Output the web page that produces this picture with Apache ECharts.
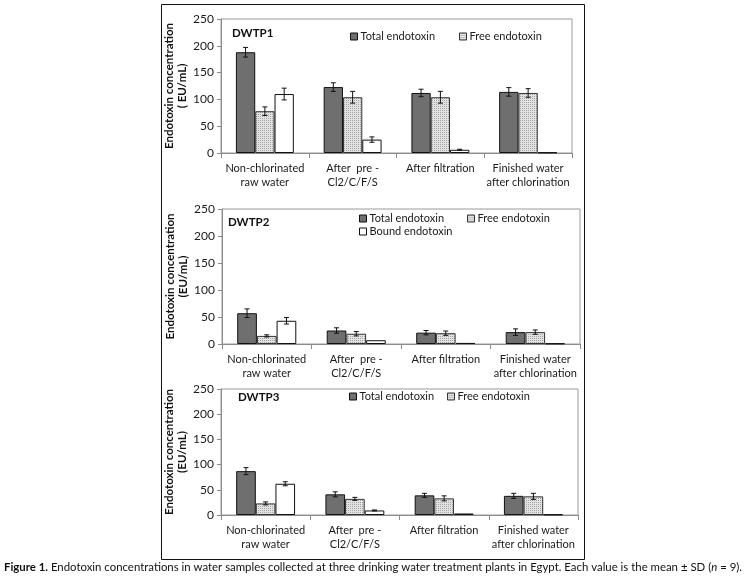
<!DOCTYPE html>
<html>
<head>
<meta charset="utf-8">
<style>
html,body{margin:0;padding:0;background:#fff;}
#c{width:748px;height:582px;}
</style>
<script src="https://cdn.jsdelivr.net/npm/echarts@6/dist/echarts.min.js"></script>
</head>
<body>
<div id="c"></div>
<script>
// ---- data ----
const categories = ['Non-chlorinated\nraw water', 'After  pre -\nCl2/C/F/S', 'After filtration', 'Finished water\nafter chlorination'];
const yTicks = [0, 50, 100, 150, 200, 250];
const plantNames = ['DWTP1', 'DWTP2', 'DWTP3'];
const seriesNames = ['Total endotoxin', 'Free endotoxin', 'Bound endotoxin'];

const dwtp1Total = [188, 123, 112, 114];
const dwtp1TotalSD = [9, 8, 7, 8];
const dwtp1Free = [78, 104, 104, 112];
const dwtp1FreeSD = [8, 11, 11, 8];
const dwtp1Bound = [110, 25, 6, 1];
const dwtp1BoundSD = [11, 5, 1, 0];

const dwtp2Total = [57, 25, 21, 22];
const dwtp2TotalSD = [8, 5, 4, 6];
const dwtp2Free = [15, 19, 20, 22];
const dwtp2FreeSD = [2, 4, 4, 4];
const dwtp2Bound = [43, 7, 2, 1];
const dwtp2BoundSD = [6, 0, 0, 0];

const dwtp3Total = [87, 41, 39, 38];
const dwtp3TotalSD = [7, 5, 4, 5];
const dwtp3Free = [23, 32, 33, 37];
const dwtp3FreeSD = [3, 3, 5, 6];
const dwtp3Bound = [62, 9, 3, 1];
const dwtp3BoundSD = [4, 1, 0, 0];

const yNames = ['Endotoxin concentration\n( EU/mL)', 'Endotoxin concentration\n(EU/mL)', 'Endotoxin concentration\n(EU/mL)'];

// ---- build ----
const FONT = 'Lato, "Open Sans", sans-serif';
const TXT = '#1a1a1a';

function makePattern() {
  const cv = document.createElement('canvas');
  cv.width = 2; cv.height = 2;
  const ctx = cv.getContext('2d');
  ctx.fillStyle = '#e2e2e2';
  ctx.fillRect(0, 0, 2, 2);
  ctx.fillStyle = '#a6a6a6';
  ctx.fillRect(0, 0, 1, 1);
  return { image: cv, repeat: 'repeat' };
}
const freePattern = makePattern();

const styles = [
  { color: '#6f6f6f', borderColor: '#111', borderWidth: 1 },
  { color: freePattern, borderColor: '#333', borderWidth: 1 },
  { color: '#ffffff', borderColor: '#111', borderWidth: 1 }
];

const plants = [
  { vals: [dwtp1Total, dwtp1Free, dwtp1Bound], sds: [dwtp1TotalSD, dwtp1FreeSD, dwtp1BoundSD] },
  { vals: [dwtp2Total, dwtp2Free, dwtp2Bound], sds: [dwtp2TotalSD, dwtp2FreeSD, dwtp2BoundSD] },
  { vals: [dwtp3Total, dwtp3Free, dwtp3Bound], sds: [dwtp3TotalSD, dwtp3FreeSD, dwtp3BoundSD] }
];

const grids = [
  { left: 221, top: 19, width: 351, height: 134 },
  { left: 222, top: 209, width: 358, height: 135 },
  { left: 221, top: 389, width: 357, height: 126 }
];

const CAT_GAP = 0.34;

const xAxes = [], yAxes = [], series = [], titles = [];
grids.forEach((g, gi) => {
  g.show = true; g.borderColor = '#9a9a9a'; g.borderWidth = 1; g.backgroundColor = 'transparent';
  xAxes.push({
    type: 'category', gridIndex: gi, data: categories,
    axisLine: { lineStyle: { color: '#8c8c8c' } },
    axisTick: { show: true, length: 5, lineStyle: { color: '#8c8c8c' } },
    axisLabel: { color: TXT, fontFamily: FONT, fontSize: 11, lineHeight: 14, margin: 8, interval: 0 }
  });
  yAxes.push({
    type: 'value', gridIndex: gi, min: yTicks[0], max: yTicks[yTicks.length - 1], interval: 50,
    axisLine: { show: true, lineStyle: { color: '#8c8c8c' } },
    axisTick: { show: true, length: 4, lineStyle: { color: '#8c8c8c' } },
    splitLine: { show: false },
    axisLabel: { color: TXT, fontFamily: FONT, fontSize: 12, margin: 7 },
    name: yNames[gi], nameLocation: 'middle', nameGap: 20, nameRotate: 90,
    nameTextStyle: { color: '#111', fontFamily: FONT, fontSize: 11.5, fontWeight: 'bold', lineHeight: 13 }
  });
  const p = plants[gi];
  for (let s = 0; s < 3; s++) {
    series.push({
      type: 'bar', name: seriesNames[s], xAxisIndex: gi, yAxisIndex: gi,
      data: p.vals[s], itemStyle: styles[s],
      barGap: '0%', barCategoryGap: (CAT_GAP * 100) + '%',
      emphasis: { disabled: true }, silent: true, animation: false
    });
  }
  for (let s = 0; s < 3; s++) {
    const vals = p.vals[s], sds = p.sds[s];
    series.push({
      type: 'custom', xAxisIndex: gi, yAxisIndex: gi, silent: true, animation: false, z: 10,
      data: vals.map((v, i) => [i, v, sds[i]]),
      renderItem: (function (pos) {
        return function (params, api) {
          const i = api.value(0), v = api.value(1), e = api.value(2);
          if (!e) return null;
          const band = api.size([1, 0])[0];
          const bw = band * (1 - CAT_GAP) / 3;
          const x = api.coord([i, v])[0] + (pos - 1) * bw;
          const yt = api.coord([i, v + e])[1];
          const yb = api.coord([i, v - e])[1];
          const c = 2.5;
          const st = { stroke: '#111', lineWidth: 1 };
          return {
            type: 'group', children: [
              { type: 'line', shape: { x1: x, y1: yt, x2: x, y2: yb }, style: st },
              { type: 'line', shape: { x1: x - c, y1: yt, x2: x + c, y2: yt }, style: st },
              { type: 'line', shape: { x1: x - c, y1: yb, x2: x + c, y2: yb }, style: st }
            ]
          };
        };
      })(s)
    });
  }
});

const titlePos = [[232, 27], [228, 216], [238, 391]];
plantNames.forEach((n, i) => {
  titles.push({
    text: n, left: titlePos[i][0], top: titlePos[i][1], padding: 0,
    textStyle: { color: '#111', fontFamily: FONT, fontSize: 11.5, fontWeight: 'bold' }
  });
});

const legendBase = {
  orient: 'horizontal', itemWidth: 7, itemHeight: 7, itemGap: 3, padding: 0,
  textStyle: { color: TXT, fontFamily: FONT, fontSize: 11, padding: [0, 0, 0, -2] },
  selectedMode: false
};
const legendSpecs = [
  [0, 350, 31], [1, 459, 31],
  [0, 359, 213], [1, 467, 213], [2, 359, 226],
  [0, 349, 391], [1, 447, 391]
];
const legends = legendSpecs.map(([si, l, t]) => Object.assign({}, legendBase, {
  left: l, top: t,
  data: [{ name: seriesNames[si], icon: 'rect', itemStyle: styles[si] }]
}));

const CAPFONT = 'Lato, sans-serif';
const CAPSIZE = 11.4;
const chart = echarts.init(document.getElementById('c'), null, { renderer: 'canvas' });
chart.setOption({
  backgroundColor: '#ffffff',
  animation: false,
  title: titles,
  legend: legends,
  grid: grids,
  xAxis: xAxes,
  yAxis: yAxes,
  series: series,
  graphic: [
    { type: 'rect', shape: { x: 161.5, y: 4.5, width: 423, height: 555 }, style: { fill: 'none', stroke: '#111', lineWidth: 1 }, silent: true },
    {
      type: 'text', left: 4, top: 562, silent: true,
      style: {
        text: '{b|Figure 1.} Endotoxin concentrations in water samples collected at three drinking water treatment plants in Egypt. Each value is the mean \u00b1 SD ({i|n} = 9).',
        rich: {
          b: { fontWeight: 'bold', fontFamily: CAPFONT, fontSize: CAPSIZE, fill: '#111' },
          i: { fontStyle: 'italic', fontFamily: CAPFONT, fontSize: CAPSIZE, fill: '#111' }
        },
        fontFamily: CAPFONT, fontSize: CAPSIZE, fill: '#111'
      }
    }
  ]
});
</script>
</body>
</html>
